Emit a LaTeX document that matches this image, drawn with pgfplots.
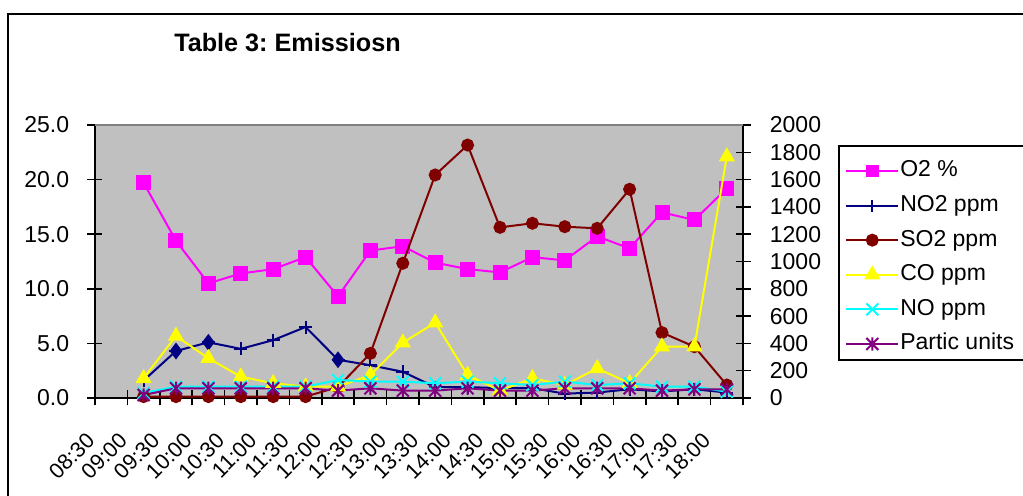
\documentclass[border=0pt]{standalone}
\usepackage{fontspec}
\setmainfont{Liberation Sans}
\usepackage{pgfplots}
\usepackage{pgfplotstable}
\pgfplotsset{compat=1.18}
\frenchspacing

\definecolor{plotgray}{HTML}{C0C0C0}
\definecolor{frameGray}{HTML}{808080}
\definecolor{oxy}{HTML}{FF00FF}
\definecolor{notwo}{HTML}{000080}
\definecolor{sotwo}{HTML}{800000}
\definecolor{cmono}{HTML}{FFFF00}
\definecolor{nmono}{HTML}{00FFFF}
\definecolor{partic}{HTML}{800080}

% Excel-like star marker: an X with a vertical bar
\pgfdeclareplotmark{xlstar}{%
  \pgfpathmoveto{\pgfqpoint{-\pgfplotmarksize}{-\pgfplotmarksize}}%
  \pgfpathlineto{\pgfqpoint{\pgfplotmarksize}{\pgfplotmarksize}}%
  \pgfpathmoveto{\pgfqpoint{-\pgfplotmarksize}{\pgfplotmarksize}}%
  \pgfpathlineto{\pgfqpoint{\pgfplotmarksize}{-\pgfplotmarksize}}%
  \pgfpathmoveto{\pgfqpoint{0pt}{-1.1\pgfplotmarksize}}%
  \pgfpathlineto{\pgfqpoint{0pt}{1.1\pgfplotmarksize}}%
  \pgfusepathqstroke}

% 1 px of the reference = 0.5pt, origin at the bottom left of the plot area (95,398)
\newcommand{\im}[2]{({(#1-95)*0.5pt},{(398-#2)*0.5pt})}

\pgfplotstableread{
x  o2   no2  so2   co    no   pm
0  19.7 1.6  10    144   36   22
1  14.4 4.3  10    454   83   71
2  10.5 5.1  10    291   83   71
3  11.4 4.5  10    156   83   71
4  11.8 5.3  10    108   83   71
5  12.9 6.5  10    83    83   71
6  9.3  3.5  80    83    132  54
7  13.5 3.0  327   168   120  71
8  13.9 2.4  987   405   120  54
9  12.4 1.0  1634  552   108  54
10 11.8 1.0  1853  168   120  71
11 11.5 0.9  1250  54    108  54
12 12.9 0.9  1280  144   95   54
13 12.6 0.4  1255  95    120  71
14 14.8 0.5  1243  217   95   71
15 13.7 0.8  1529  108   108  71
16 17.0 0.6  479   376   83   54
17 16.3 0.8  376   376   83   63
18 19.2 0.5  95    1768  46   63
}\emis

\pgfplotsset{
  emisbase/.style={
    scale only axis, width=324pt, height=136.5pt,
    xmin=-1.5, xmax=18.5,
    clip=false,
    tick align=center, major tick length=7.5pt,
    tick style={black, line width=0.75pt},
    axis line style={black, line width=0.75pt},
    every tick label/.append style={font=\fontsize{11.5pt}{13pt}\selectfont},
  },
  every axis plot/.append style={line width=1pt},
  every mark/.append style={solid},
}

\begin{document}
\begin{tikzpicture}
\path[use as bounding box] \im{0}{0} rectangle \im{1023}{496};

\begin{axis}[
    emisbase,
    ymin=0, ymax=25,
    axis x line*=bottom, axis y line*=left,
    axis background/.style={fill=plotgray},
    xtick={-1.5,-0.5,...,18.5},
    xticklabels={08:30,09:00,09:30,10:00,10:30,11:00,11:30,12:00,12:30,13:00,
                 13:30,14:00,14:30,15:00,15:30,16:00,16:30,17:00,17:30,18:00,{}},
    xticklabel style={xshift=-2pt, yshift=-15.5pt, rotate=45, anchor=east, inner sep=0pt,
        font=\fontsize{10.8pt}{12pt}\selectfont},
    ytick={0,5,...,25},
    yticklabel style={anchor=east, inner sep=0pt, xshift=-9pt,
        /pgf/number format/.cd, fixed, fixed zerofill, precision=1, assume math mode=true},
  ]
  \addplot[oxy, mark=square*, mark size=3.25pt] table[x=x, y=o2] {\emis};
  \addplot[notwo, mark=+, mark size=3.25pt] table[x=x, y=no2] {\emis};
  \addplot[notwo, only marks, mark=diamond*, mark size=3.4pt]
    coordinates {(1,4.3) (2,5.1) (6,3.5)};
\end{axis}

\begin{axis}[
    emisbase,
    ymin=0, ymax=2000,
    axis x line=none, axis y line*=right,
    ytick={0,200,...,2000},
    yticklabel style={anchor=west, inner sep=0pt, xshift=9.5pt,
        /pgf/number format/.cd, fixed, 1000 sep={}, assume math mode=true},
    legend style={draw=none, fill=none, at={(1.148,0.91)}, anchor=north west,
        inner sep=3pt, row sep=2.3pt,
        font=\fontsize{11.5pt}{13pt}\selectfont,
        nodes={inner xsep=0.5pt, inner ysep=2pt, text height=8.5pt, text depth=2.5pt}},
    legend cell align=left,
    legend image code/.code={\draw[mark repeat=2, mark phase=2, #1]
        plot coordinates {(0pt,0pt) (13pt,0pt) (26pt,0pt)};},
  ]
  \addlegendimage{oxy, mark=square*, mark size=2.6pt}
  \addlegendentry{O2 \%}
  \addlegendimage{notwo, mark=+, mark size=3pt}
  \addlegendentry{NO2 ppm}
  \addplot[sotwo, mark=*, mark size=2.75pt] table[x=x, y=so2] {\emis};
  \addlegendentry{SO2 ppm}
  \addplot[cmono, mark=triangle*, mark size=3.7pt] table[x=x, y=co] {\emis};
  \addlegendentry{CO ppm}
  \addplot[nmono, mark=x, mark size=4.2pt] table[x=x, y=no] {\emis};
  \addlegendentry{NO ppm}
  \addplot[partic, mark=xlstar, mark size=3pt] table[x=x, y=pm] {\emis};
  \addlegendentry{Partic units}
\end{axis}

% plot area top edge, legend frame, chart frame, title
\draw[frameGray, line width=0.9pt] \im{95}{125} -- \im{743}{125};
\draw[black, line width=0.75pt] \im{839}{146} rectangle \im{1040}{360};
\draw[black, line width=0.75pt] \im{8}{520} -- \im{8}{14} -- \im{1040}{14};
\node[font=\bfseries\fontsize{12.6pt}{15pt}\selectfont] at \im{287.5}{43} {Table 3: Emissiosn};
\end{tikzpicture}
\end{document}
